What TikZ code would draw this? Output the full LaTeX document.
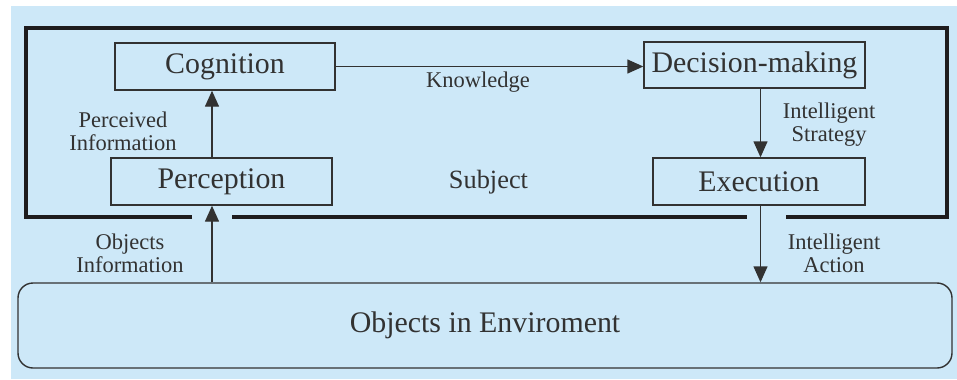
\documentclass[tikz,border=0pt]{standalone}
\usepackage{fontspec}
\setmainfont{Liberation Serif}
\usepackage{xcolor}
\usepackage{tikz}
\usetikzlibrary{arrows.meta, positioning, calc}
\definecolor{panelblue}{RGB}{205, 232, 248}
\definecolor{linegray}{RGB}{50, 50, 50}
\definecolor{framedark}{RGB}{30, 28, 30}

\begin{document}
\begin{tikzpicture}[every node/.style={font=\fontsize{17}{20}\selectfont, text=linegray},
    stage/.style={draw=linegray, line width=0.8pt, minimum height=0.94cm, inner sep=0pt},
    lbl/.style={font=\fontsize{12.8}{13}\selectfont, align=center},
    flow/.style={draw=linegray, line width=0.8pt, -{Triangle[length=0.32cm, width=0.28cm]}}]
        \useasboundingbox (0,0) rectangle (19.14,7.58);
        % background panel
        \fill[white] (0,0) rectangle (19.14,7.58);
        \fill[panelblue] (0.22,0) rectangle (19.14,7.46);

        % subject frame, open where the arrows pass
        \draw[framedark, line width=2.8pt] (3.84,3.24) -| (0.52,7.02) -| (18.94,3.24) -- (15.72,3.24);
        \draw[framedark, line width=2.8pt] (4.64,3.24) -- (14.94,3.24);
        \node[font=\fontsize{15}{18}\selectfont] (subj) at (9.77,3.94) {Subject};

        % stages
        \node[stage, minimum width=4.4cm] (cog) at (4.5,6.25) {Cognition};
        \node[stage, minimum width=4.42cm] (per) at (4.43,3.95) {Perception};
        \node[stage, minimum width=4.42cm, minimum height=0.92cm] (dec) at (15.09,6.28) {Decision-making};
        \node[stage, minimum width=4.24cm] (exe) at (15.18,3.95) {Execution};
        \node[draw=linegray, line width=0.8pt, rounded corners=0.3cm,
              minimum width=18.68cm, minimum height=1.7cm] (env) at (9.7,1.07) {Objects in Enviroment};

        % flows
        \coordinate (lx) at (4.24,0);
        \coordinate (rx) at (15.21,0);
        \draw[flow] (env.north -| lx) -- (per.south -| lx);
        \draw[flow] (per.north -| lx) -- (cog.south -| lx);
        \draw[flow] (cog.east) -- (cog.east -| dec.west);
        \draw[flow] (dec.south -| rx) -- (exe.north -| rx);
        \draw[flow] (exe.south -| rx) -- (env.north -| rx);

        % flow labels
        \node[lbl] (know) at (9.56,5.93) {Knowledge};
        \node[lbl] (pinfo) at (2.46,4.96) {Perceived\\Information};
        \node[lbl] (strat) at (16.58,5.08) {Intelligent\\Strategy};
        \node[lbl] (oinfo) at (2.6,2.52) {Objects\\Information};
        \node[lbl] (act) at (16.68,2.52) {Intelligent\\Action};
      \end{tikzpicture}
\end{document}
